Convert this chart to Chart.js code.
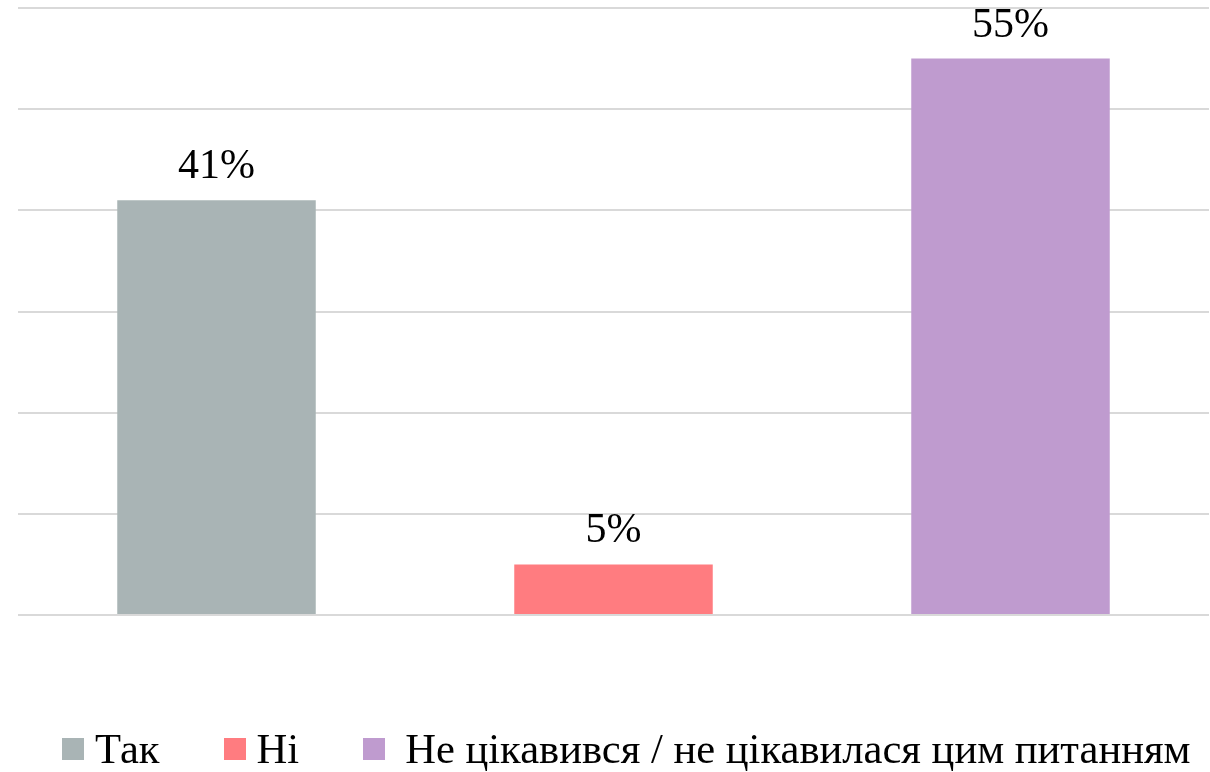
<!DOCTYPE html>
<html>
<head>
<meta charset="utf-8">
<script src="https://cdn.jsdelivr.net/npm/chart.js@4"></script>
<style>
  html, body { margin: 0; padding: 0; background: #fff; }
  #wrap { width: 1210px; height: 772px; position: relative; }
  #legend {
    position: absolute; top: 726px; left: 62px;
    display: flex; align-items: center; white-space: nowrap;
    font-family: 'Liberation Serif', 'Times New Roman', serif;
    font-size: 42.6px; line-height: 46px; color: #000;
  }
  #legend .item { display: flex; align-items: center; margin-right: 64px; }
  #legend .box { width: 22px; height: 22px; margin-right: 11px; }
  #legend .item:last-child .box { margin-right: 20px; }
</style>
</head>
<body>
<div id="wrap">
  <canvas id="answerChart"></canvas>
  <div id="legend"></div>
</div>
<script>
// відповіді (%)
const categories = ["Так", "Ні", "Не цікавився / не цікавилася цим питанням"];
const values = [41, 5, 55];
const colors = ["#A9B4B5", "#FF7C80", "#BF9BCF"];

const fontFamily = "'Liberation Serif', 'Times New Roman', serif";

// підписи над стовпцями
const barLabels = {
  id: "barLabels",
  afterDatasetsDraw(chart) {
    const ctx = chart.ctx;
    const meta = chart.getDatasetMeta(0);
    ctx.save();
    ctx.font = "42px " + fontFamily;
    ctx.fillStyle = "#000";
    ctx.textAlign = "center";
    ctx.textBaseline = "alphabetic";
    meta.data.forEach((bar, i) => {
      ctx.fillText(values[i] + "%", bar.x, bar.y - 22);
    });
    ctx.restore();
  }
};

const ctx = document.getElementById("answerChart");
const chart = new Chart(ctx, {
  type: "bar",
  data: {
    labels: categories,
    datasets: [{
      data: values,
      backgroundColor: colors,
      categoryPercentage: 1,
      barPercentage: 0.5
    }]
  },
  options: {
    responsive: true,
    maintainAspectRatio: false,
    animation: false,
    layout: { padding: { top: 8, left: 18, right: 1, bottom: 0 } },
    plugins: {
      tooltip: { enabled: false },
      legend: { display: false }
    },
    scales: {
      x: {
        grid: { display: false },
        border: { display: false },
        ticks: { display: false },
        afterFit: (scale) => { scale.height = 157; }
      },
      y: {
        min: 0,
        max: 60,
        ticks: { display: false, stepSize: 10 },
        border: { display: false },
        grid: { color: "#d9d9d9", lineWidth: 2, drawTicks: false }
      }
    }
  },
  plugins: [barLabels]
});

// легенда
const legendNode = document.getElementById("legend");
categories.forEach((c, i) => {
  const item = `<div class="item"><span class="box" style="background:${colors[i]}"></span><span>${c}</span></div>`;
  legendNode.insertAdjacentHTML("beforeend", item);
});
</script>
</body>
</html>
